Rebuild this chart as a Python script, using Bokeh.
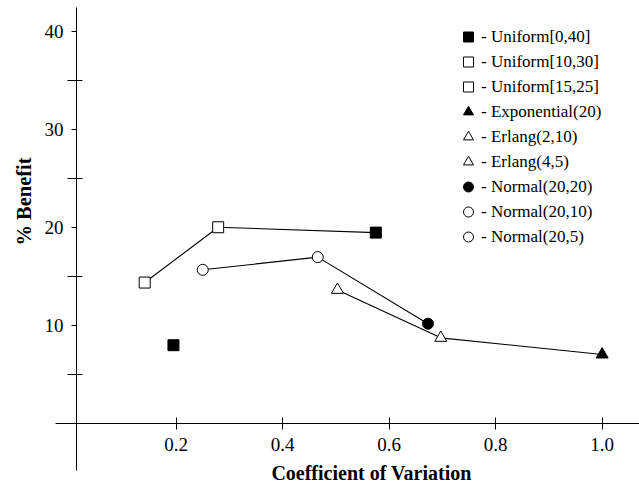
import math
from bokeh.plotting import figure
from bokeh.models import FixedTicker, Legend, LegendItem, Label, PrintfTickFormatter
from bokeh.embed import file_html
from bokeh.resources import INLINE

# ---- data ----
labels = ["Uniform[0,40]", "Uniform[10,30]", "Uniform[15,25]", "Exponential(20)",
          "Erlang(2,10)", "Erlang(4,5)", "Normal(20,20)", "Normal(20,10)", "Normal(20,5)"]
cv = [0.575, 0.279, 0.141, 1.0, 0.697, 0.503, 0.673, 0.466, 0.250]
benefit = [19.5, 20.05, 14.4, 7.05, 8.75, 13.65, 10.2, 17.0, 15.7]

# connected series (indices into the arrays above)
uniform_line = [2, 1, 0]
gamma_line = [5, 4, 3]
normal_line = [8, 7, 6]

# unlabelled extra filled-square point
extra_cv = [0.195]
extra_benefit = [8.0]

x_ticks = [0.2, 0.4, 0.6, 0.8, 1.0]
y_ticks = [10, 20, 30, 40]
y_minor = [5, 15, 25, 35]

# ---- styles ----
marker_shape = ["square", "square", "square", "triangle", "triangle", "triangle",
                "circle", "circle", "circle"]
marker_filled = [True, False, False, True, False, False, True, False, False]
FONT = "Liberation Serif"

p = figure(width=639, height=485, x_range=(-0.1298, 1.0702), y_range=(-6.33, 43.21),
           output_backend="svg", toolbar_location=None,
           min_border_left=0, min_border_right=0, min_border_top=0, min_border_bottom=0)
p.outline_line_color = None
p.grid.visible = False
p.background_fill_color = "white"

for grp in (uniform_line, gamma_line, normal_line):
    p.line([cv[i] for i in grp], [benefit[i] for i in grp], line_color="black", line_width=1.1)

items = []
for i, lab in enumerate(labels):
    sz = 12 if marker_shape[i] == "triangle" else 11
    r = p.scatter([cv[i]], [benefit[i]], marker=marker_shape[i], size=sz,
                  fill_color="black" if marker_filled[i] else "white",
                  line_color="black", line_width=1)
    items.append(LegendItem(label="- " + lab, renderers=[r]))

p.scatter(extra_cv, extra_benefit, marker="square", size=11, fill_color="black", line_color="black")

legend = Legend(items=items, location=(455, 236), glyph_height=25, glyph_width=26, spacing=0,
                padding=0, margin=0, label_standoff=0, border_line_color=None,
                background_fill_alpha=0, label_text_font=FONT, label_text_font_size="17px",
                label_height=20, label_text_color="black")
p.add_layout(legend)

# axes
xa = p.xaxis[0]
xa.fixed_location = 0
xa.bounds = (-0.0265, 1.0702)
xa.ticker = FixedTicker(ticks=x_ticks)
xa.formatter = PrintfTickFormatter(format="%.1f")
xa.major_tick_in = 6
xa.major_tick_out = 6
xa.minor_tick_in = 0
xa.minor_tick_out = 0
xa.axis_line_color = "black"
xa.major_tick_line_color = "black"
xa.major_label_text_font = FONT
xa.major_label_text_font_size = "19px"
xa.major_label_text_color = "black"
xa.major_label_standoff = 8

ya = p.yaxis[0]
ya.fixed_location = 0.013
ya.bounds = (-4.80, 42.52)
ya.ticker = FixedTicker(ticks=y_ticks, minor_ticks=y_minor)
ya.major_tick_in = 0
ya.major_tick_out = 5
ya.minor_tick_in = 6
ya.minor_tick_out = 9
ya.axis_line_color = "black"
ya.major_tick_line_color = "black"
ya.minor_tick_line_color = "black"
ya.major_label_text_font = FONT
ya.major_label_text_font_size = "19px"
ya.major_label_text_color = "black"
ya.major_label_standoff = 4

p.add_layout(Label(x=-0.0866, y=22.68, text="% Benefit", angle=math.pi / 2,
                   text_align="center", text_baseline="middle", text_font=FONT,
                   text_font_style="bold", text_font_size="20.5px", text_color="black"))
p.add_layout(Label(x=0.567, y=-5.1, text="Coefficient of Variation",
                   text_align="center", text_baseline="middle", text_font=FONT,
                   text_font_style="bold", text_font_size="20px", text_color="black"))

open("out.html", "w").write(file_html(p, INLINE))
